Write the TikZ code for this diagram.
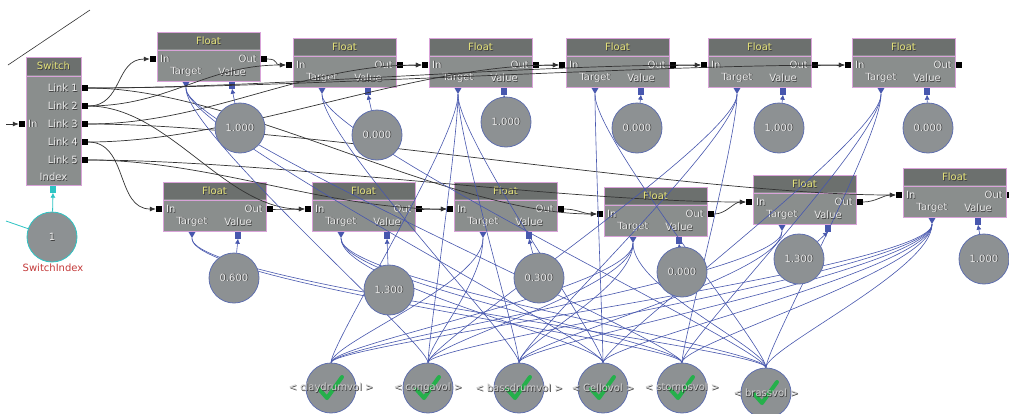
\documentclass[tikz,border=0pt]{standalone}
\usepackage{fontspec}
\setmainfont{DejaVu Sans}
\usetikzlibrary{arrows.meta,shapes.geometric}

\definecolor{bodygray}{HTML}{8A8E8D}
\definecolor{titlegray}{HTML}{6C706E}
\definecolor{pinkedge}{HTML}{D9A3D9}
\definecolor{titletext}{HTML}{E4E27A}
\definecolor{labeltext}{HTML}{ECECEC}
\definecolor{varlabel}{HTML}{D0D0D0}
\definecolor{shade}{HTML}{3A3A3A}
\definecolor{circfill}{HTML}{8D9193}
\definecolor{circedge}{HTML}{5F6FAE}
\definecolor{bluewire}{HTML}{4757AE}
\definecolor{blackwire}{HTML}{333333}
\definecolor{cyanlink}{HTML}{2EC4C4}
\definecolor{redlabel}{HTML}{C43A3A}
\definecolor{checkgreen}{HTML}{25B04B}

% light text with a dark drop shadow
\newcommand{\shtext}[2][labeltext]{\leavevmode\rlap{\kern0.7pt\raisebox{-0.7pt}{\textcolor{shade}{#2}}}\textcolor{#1}{#2}}

\pgfdeclarelayer{boxes}
\pgfdeclarelayer{wires}
\pgfsetlayers{boxes,wires,main}

\tikzset{
  fbox/.style={draw=pinkedge, line width=1pt, fill=bodygray, minimum width=103pt, minimum height=49pt, inner sep=0pt},
  lbl/.style={font=\fontsize{10}{11}\selectfont, inner sep=0pt},
  blk/.style={fill=black, minimum width=6pt, minimum height=6pt, inner sep=0pt},
  tgt/.style={regular polygon, regular polygon sides=3, shape border rotate=180, fill=bluewire, inner sep=0pt, minimum size=8pt},
  valsq/.style={fill=bluewire, minimum width=6pt, minimum height=7pt, inner sep=0pt},
  valcirc/.style={circle, draw=circedge, line width=0.8pt, fill=circfill, minimum size=50pt, inner sep=0pt, font=\fontsize{10}{11}\selectfont},
  varcirc/.style={circle, draw=circedge, line width=0.8pt, fill=circfill, minimum size=50pt, inner sep=0pt},
  wire/.style={draw=blackwire, line width=0.7pt},
  flow/.style={wire, -{Latex[length=6pt,width=5pt]}},
  vlink/.style={draw=bluewire, line width=0.6pt},
  varrow/.style={vlink, -{Latex[length=5pt,width=5pt]}},
  cyanarrow/.style={draw=cyanlink, line width=0.8pt, -{Latex[length=5pt,width=5pt]}},
}

% Float action box: name, left x, top y
\newcommand{\floatnode}[3]{%
  \begin{scope}[shift={(#2,#3)}]
    \node[fbox] (#1) at (51.5,24.5) {};
    \fill[titlegray] (0.5,0.5) rectangle (102.5,17);
    \draw[pinkedge, line width=1pt] (0,18) -- (103,18);
    \node[lbl] (#1-title) at (51.5,9) {\shtext[titletext]{Float}};
    \node[lbl, anchor=west] (#1-inl) at (3,27) {\shtext{In}};
    \node[lbl, anchor=east] (#1-outl) at (100,27) {\shtext{Out}};
    \node[lbl] (#1-tl) at (29,40) {\shtext{Target}};
    \node[lbl] (#1-vl) at (75,40) {\shtext{Value}};
    \node[blk] (#1-in) at (-4,27) {};
    \node[blk] (#1-out) at (107,27) {};
    \node[tgt] (#1-tg) at (29,52) {};
    \node[valsq] (#1-v) at (75,53) {};
  \end{scope}}

% sound volume variable with its check mark
\newcommand{\varnode}[4]{%
  \node[varcirc] (#1) at (#2,#3) {};
  \draw[checkgreen, line width=4pt, line cap=round, line join=round]
    ([shift={(-12,1)}]#1.center) -- ([shift={(-4,10)}]#1.center) -- ([shift={(11,-11)}]#1.center);
  \node[lbl] (#1-lab) at (#2,#3) {\shtext[varlabel]{< #4 >}};}

\newcommand{\flowlink}[3]{\draw[flow] (#1.east) .. controls +(#3,0) and +(-#3,0) .. (#2.west);}
\newcommand{\tlink}[2]{\draw[vlink] (#1-tg.south) .. controls +(0,45) and +(0,-45) .. (#2);}

\begin{document}
\begin{tikzpicture}[x=1pt,y=-1pt]
\useasboundingbox (0,0) rectangle (1009,413);

\begin{pgfonlayer}{boxes}
  \fill[white] (0,0) rectangle (1009,413);

  % Switch box
  \begin{scope}[shift={(26,57)}]
    \node[fbox, minimum width=55pt, minimum height=128pt] (sw) at (27.5,64) {};
    \fill[titlegray] (0.5,0.5) rectangle (54.5,17.5);
    \draw[pinkedge, line width=1pt] (0,19) -- (55,19);
    \node[lbl] (sw-title) at (27.5,9) {\shtext[titletext]{Switch}};
    \node[lbl, anchor=east] (sw-t1) at (52,31) {\shtext{Link 1}};
    \node[lbl, anchor=east] (sw-t2) at (52,49) {\shtext{Link 2}};
    \node[lbl, anchor=east] (sw-t3) at (52,67) {\shtext{Link 3}};
    \node[lbl, anchor=east] (sw-t4) at (52,85) {\shtext{Link 4}};
    \node[lbl, anchor=east] (sw-t5) at (52,103) {\shtext{Link 5}};
    \node[lbl, anchor=west] (sw-tin) at (2,67) {\shtext{In}};
    \node[lbl] (sw-tidx) at (27.5,120) {\shtext{Index}};
    \node[blk] (sw-l1) at (59,31) {};
    \node[blk] (sw-l2) at (59,49) {};
    \node[blk] (sw-l3) at (59,67) {};
    \node[blk] (sw-l4) at (59,85) {};
    \node[blk] (sw-l5) at (59,103) {};
    \node[blk] (sw-in) at (-4,67) {};
    \node[fill=cyanlink, minimum width=6pt, minimum height=7pt, inner sep=0pt] (sw-idx) at (27,132) {};
  \end{scope}

  % upper row of Float actions
  \floatnode{f1}{157}{32}
  \floatnode{f2}{293}{38}
  \floatnode{f3}{429}{38}
  \floatnode{f4}{566}{38}
  \floatnode{f5}{708}{38}
  \floatnode{f6}{852}{38}
  % lower row of Float actions
  \floatnode{g1}{163}{182}
  \floatnode{g2}{312}{182}
  \floatnode{g3}{454}{182}
  \floatnode{g4}{604}{187}
  \floatnode{g5}{753}{175}
  \floatnode{g6}{903}{168}
\end{pgfonlayer}

% value variables
\node[valcirc] (vf1) at (240,128) {\shtext{1.000}};
\node[valcirc] (vf2) at (377,135) {\shtext{0.000}};
\node[valcirc] (vf3) at (506,122) {\shtext{1.000}};
\node[valcirc] (vf4) at (637,128) {\shtext{0.000}};
\node[valcirc] (vf5) at (779,128) {\shtext{1.000}};
\node[valcirc] (vf6) at (928,128) {\shtext{0.000}};
\node[valcirc] (vg1) at (234,278) {\shtext{0.600}};
\node[valcirc] (vg2) at (389,290) {\shtext{1.300}};
\node[valcirc] (vg3) at (539,278) {\shtext{0.300}};
\node[valcirc] (vg4) at (682,272) {\shtext{0.000}};
\node[valcirc] (vg5) at (799,259) {\shtext{1.300}};
\node[valcirc] (vg6) at (984,259) {\shtext{1.000}};

% switch index variable
\node[circle, draw=cyanlink, line width=0.8pt, fill=circfill, minimum size=50pt, inner sep=0pt, font=\fontsize{10}{11}\selectfont] (swidx) at (52,237) {\shtext{1}};
\node[font=\fontsize{10}{11}\selectfont, text=redlabel, inner sep=0pt] (swidx-lab) at (53,268) {SwitchIndex};
\coordinate (idxsrc) at (6,221);
\coordinate (swsrc) at (6,124);
\coordinate (diagA) at (8,65);
\coordinate (diagB) at (90,10);

% volume variables
\varnode{v1}{331}{388}{claydrumvol}
\varnode{v2}{428}{388}{congavol}
\varnode{v3}{519}{388}{bassdrumvol}
\varnode{v4}{603}{388}{Cellovol}
\varnode{v5}{682}{388}{stompsvol}
\varnode{v6}{766}{393}{brassvol}

\begin{pgfonlayer}{wires}
  \draw[wire, line width=0.6pt] (diagA) -- (diagB);
  \draw[flow] (swsrc) -- (sw-in.west);
  \draw[draw=cyanlink, line width=0.8pt] (idxsrc) -- (swidx);
  \draw[cyanarrow] (swidx) -- (sw-idx.south);

  % activation links
  \flowlink{sw-l2}{f1-in}{35}
  \flowlink{f1-out}{f2-in}{12}
  \flowlink{f2-out}{f3-in}{12}
  \flowlink{f3-out}{f4-in}{12}
  \flowlink{f4-out}{f5-in}{12}
  \flowlink{f5-out}{f6-in}{12}
  \flowlink{sw-l2}{f2-in}{80}
  \flowlink{sw-l3}{f3-in}{120}
  \flowlink{sw-l4}{f4-in}{150}
  \flowlink{sw-l1}{f5-in}{180}
  \flowlink{sw-l1}{f6-in}{200}
  \flowlink{sw-l4}{g1-in}{40}
  \flowlink{g1-out}{g2-in}{12}
  \flowlink{g2-out}{g3-in}{12}
  \flowlink{g3-out}{g4-in}{12}
  \flowlink{g4-out}{g5-in}{12}
  \flowlink{g5-out}{g6-in}{12}
  \flowlink{sw-l2}{g2-in}{80}
  \flowlink{sw-l5}{g3-in}{120}
  \flowlink{sw-l1}{g4-in}{150}
  \flowlink{sw-l5}{g5-in}{180}
  \flowlink{sw-l3}{g6-in}{200}

  % value links
  \draw[varrow] (vf1) -- (f1-v.south);
  \draw[varrow] (vf2) -- (f2-v.south);
  \draw[varrow] (vf3) -- (f3-v.south);
  \draw[varrow] (vf4) -- (f4-v.south);
  \draw[varrow] (vf5) -- (f5-v.south);
  \draw[varrow] (vf6) -- (f6-v.south);
  \draw[varrow] (vg1) -- (g1-v.south);
  \draw[varrow] (vg2) -- (g2-v.south);
  \draw[varrow] (vg3) -- (g3-v.south);
  \draw[varrow] (vg4) -- (g4-v.south);
  \draw[varrow] (vg5) -- (g5-v.south);
  \draw[varrow] (vg6) -- (g6-v.south);

  % target links
  \tlink{f1}{v2} \tlink{f1}{v4} \tlink{f1}{v5}
  \tlink{f2}{v3} \tlink{f2}{v6}
  \tlink{f3}{v1} \tlink{f3}{v2} \tlink{f3}{v3} \tlink{f3}{v4}
  \tlink{f4}{v4} \tlink{f4}{v6}
  \tlink{f5}{v2} \tlink{f5}{v3} \tlink{f5}{v5}
  \tlink{f6}{v4} \tlink{f6}{v5} \tlink{f6}{v6}
  \tlink{g1}{v5} \tlink{g1}{v6}
  \tlink{g2}{v4} \tlink{g2}{v5} \tlink{g2}{v6}
  \tlink{g3}{v1} \tlink{g3}{v2}
  \tlink{g4}{v1} \tlink{g4}{v2} \tlink{g4}{v3} \tlink{g4}{v6}
  \tlink{g5}{v1} \tlink{g5}{v3}
  \tlink{g6}{v1} \tlink{g6}{v2} \tlink{g6}{v3} \tlink{g6}{v4} \tlink{g6}{v5} \tlink{g6}{v6}
\end{pgfonlayer}
\end{tikzpicture}
\end{document}
